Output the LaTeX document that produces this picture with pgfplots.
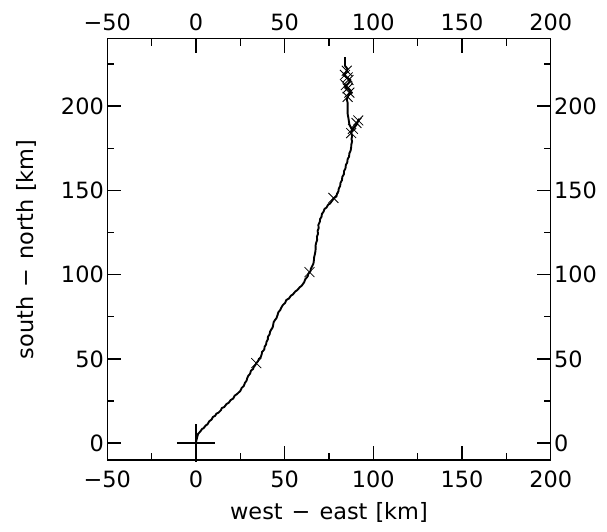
\documentclass[border=0pt]{standalone}
\usepackage{fontspec}
\setmainfont{DejaVu Sans}
\usepackage{pgfplots}
\pgfplotsset{compat=1.18}
\pgfplotsset{myax/.style={
  at={(0,0)}, anchor=south west, scale only axis,
  width=443.4bp, height=421.3bp,
  xmin=-50, xmax=200, ymin=-10, ymax=240,
  xtick={-50,0,50,100,150,200},
  xticklabels={−50,0,50,100,150,200},
  ytick={0,50,100,150,200},
  yticklabels={0,50,100,150,200},
  minor xtick={-25,25,75,125,175},
  minor ytick={25,75,125,175,225},
  tick align=inside,
  major tick length=14bp, minor tick length=7bp,
  axis line style={line width=1.3bp, black},
  every tick/.style={black, line width=1.3bp},
  tick label style={font=\fontsize{22.5}{27}\selectfont},
  label style={font=\fontsize{22.5}{27}\selectfont},
}}
\begin{document}
\begin{tikzpicture}
\useasboundingbox (-107.3bp,-72bp) rectangle (499.7bp,460bp);
\begin{axis}[myax,
  xticklabel style={yshift=-7bp},
  xlabel={west\hspace{9bp}−\hspace{9bp}east\hspace{8bp}[km]},
  ylabel={south\hspace{9bp}−\hspace{9bp}north\hspace{8bp}[km]},
  xlabel style={at={(axis description cs:0.5,-0.1424)}, anchor=base},
  ylabel style={at={(axis description cs:-0.167,0.5)}, anchor=base}]
\addplot[black, line width=1.9bp, mark=none] coordinates {
(0,0) (0.3,2) (0.8,4) (1.2,5.5) (2.5,7) (3.5,8.5) (4.2,8.8) (5.5,10.5) (6.5,11.2)
(7.5,13) (8.8,14) (9.5,15.5) (10.8,16.2) (11.5,17.5) (12.8,18.2) (14,19.5)
(14.6,20.8) (16,21.5) (17.2,23.2) (18.5,24) (19.5,25.5) (21,26.5) (21.8,28.2)
(23,29) (24.2,30.2) (25,31) (25.8,32.8) (27,34) (27.6,35.8) (28.5,37) (28.9,38.6)
(29.5,40) (30.5,41.2) (31,43) (32.2,44) (32.5,45) (33.5,46.4) (34,47.5)
(34.9,48.5) (35.5,50) (36.4,50.8) (37,52.5) (37.3,54.2) (38.5,55.5) (38.7,57.2)
(39.5,58.5) (39.8,60.2) (40.5,61.5) (40.6,63.2) (41.5,64.5) (41.8,66.2)
(42.5,67.5) (43.2,68.6) (43.5,70) (43.8,71.8) (44.5,73) (45.4,74.2) (46,76)
(46.4,77.6) (47.5,79) (48.1,80.4) (49,82) (50.2,83.2) (51,85) (52.4,85.8)
(53.5,87.5) (54.6,88.2) (56,90) (57.2,90.9) (58.5,92.5) (59.6,93.4) (61,95.5)
(61.6,97.2) (63,99) (63.4,100.6) (64.5,102) (64.8,103.6) (65.5,105) (66.2,106.5)
(66.5,108.5) (66.6,110.2) (67,112) (67.3,113.6) (67.5,115.5) (67.4,117.2)
(67.8,119) (68.3,120.6) (68.2,122.5) (68.8,124.2) (68.6,126) (69.2,127.6)
(69,129.5) (69.8,131.2) (70,133) (70.8,134.4) (71,136) (71.9,137.3) (72.5,139)
(73.6,139.8) (74.5,141.5) (75.6,142.2) (76.5,143.5) (77.4,144.8) (78,145.5)
(79.2,146.4) (79.5,148) (80.3,149.4) (80.5,151) (81.3,152.6) (81.5,154.5)
(82.3,156) (82.5,158) (83.4,159.6) (83.5,161.5) (84.3,163) (84.5,165)
(85.3,166.6) (85.5,168.5) (86.3,170) (86.5,172) (87.2,173.6) (87.5,175.5)
(87.6,177.2) (88,179) (87.7,180.6) (88,182) (87.5,184.5) (88.5,186.5)
(90.5,189) (92,192.5) (91,190) (89.5,187.5) (88,186) (86.5,189) (86,192.5)
(85.5,195.5) (85.5,199) (85.5,202) (85,204) (86,206.5) (87.5,208) (86,210)
(84,211.5) (86,213.5) (87,215.5) (85,217) (83.5,218.5) (84.5,220) (85.5,222)
(84,224) (84,229)
};
\addplot[black, only marks, mark=x, mark size=7bp, line width=0.8bp] coordinates {
(34,47.5) (64,101.5) (77.5,145.5) (87.5,184) (88.5,186.5) (90.5,190) (91.5,191.5)
(85.5,205.5) (86.5,208) (85.5,210.5) (84.5,212.5) (86,215.5) (85.5,217)
(84,218.5) (85,221)
};
\addplot[black, only marks, mark=+, mark size=19bp, line width=2bp] coordinates {(0,0)};
\end{axis}
\begin{axis}[myax, xticklabel pos=upper, yticklabel pos=right,
  xticklabel style={yshift=4bp}]
\end{axis}
\end{tikzpicture}
\end{document}
